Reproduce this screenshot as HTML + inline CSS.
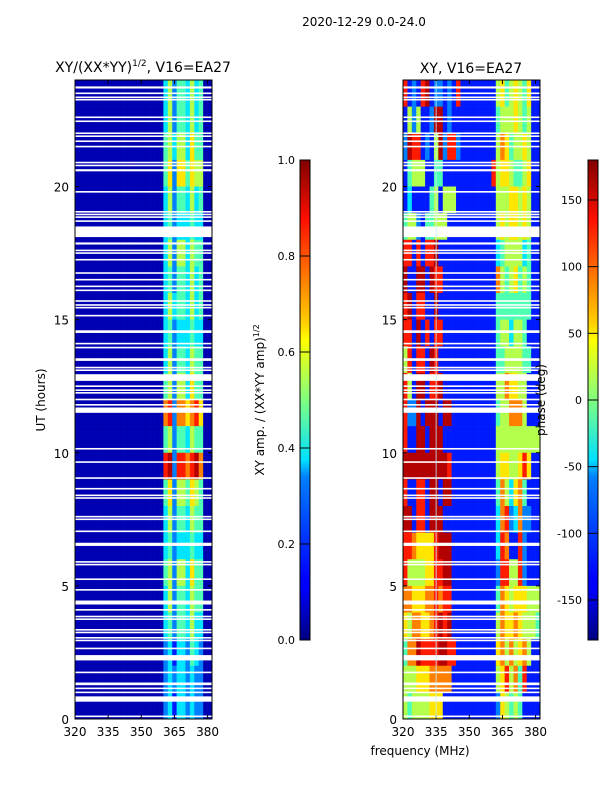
<!DOCTYPE html>
<html><head><meta charset="utf-8"><style>
html,body{margin:0;padding:0;background:#fff;}
svg{display:block;font-family:"DejaVu Sans","Liberation Sans",sans-serif;}
</style></head><body>
<svg id="fig" width="600" height="800" viewBox="0 0 600 800" xmlns="http://www.w3.org/2000/svg">
<defs>
<linearGradient id="jet" x1="0" y1="1" x2="0" y2="0">
<stop offset="0" stop-color="#000080"/><stop offset="0.11" stop-color="#0000ff"/><stop offset="0.125" stop-color="#0000ff"/>
<stop offset="0.34" stop-color="#0080ff"/><stop offset="0.375" stop-color="#00e0ff"/><stop offset="0.5" stop-color="#80ff80"/>
<stop offset="0.625" stop-color="#ffff00"/><stop offset="0.66" stop-color="#ffd000"/><stop offset="0.875" stop-color="#ff1000"/><stop offset="1" stop-color="#800000"/>
</linearGradient>
</defs>
<text x="364" y="26" font-size="12" text-anchor="middle">2020-12-29 0.0-24.0</text>
<text x="143" y="72" font-size="14" text-anchor="middle">XY/(XX*YY)<tspan font-size="9" dy="-6">1/2</tspan><tspan dy="6">, V16=EA27</tspan></text>
<text x="471" y="73" font-size="14" text-anchor="middle">XY, V16=EA27</text>
<text x="45" y="400" font-size="12" text-anchor="middle" transform="rotate(-90 45 400)">UT (hours)</text>
<text x="420" y="755" font-size="12" text-anchor="middle">frequency (MHz)</text>
<text x="264" y="400" font-size="12" text-anchor="middle" transform="rotate(-90 264 400)">XY amp. / (XX*YY amp)<tspan font-size="8" dy="-5">1/2</tspan></text>
<g id="left"></g>
<g id="right"></g>
<g id="cb"></g>
<text x="545" y="400" font-size="12" text-anchor="middle" transform="rotate(-90 545 400)">phase (deg)</text>
</svg>
<script>
const hourTicks=[0,5,10,15,20];
const freqTicks=[320,335,350,365,380];
const ampTicks=[0.0,0.2,0.4,0.6,0.8,1.0];
const phaseTicks=[-150,-100,-50,0,50,100,150];
const gaps=[[23.68,23.76],[23.48,23.53],[23.33,23.38],[23.24,23.29],[22.57,22.63],[22.42,22.48],[21.97,22.03],[21.87,21.92],[21.67,21.73],[21.47,21.53],[20.87,20.93],[20.77,20.82],[20.57,20.65],[19.77,19.83],[19.02,19.08],[18.92,18.98],[18.82,18.88],[18.67,18.73],[18.1,18.5],[17.82,17.9],[17.57,17.63],[17.47,17.53],[17.22,17.28],[16.72,16.78],[16.47,16.53],[16.22,16.28],[16.07,16.13],[15.67,15.73],[15.52,15.58],[15.42,15.48],[15.12,15.18],[14.5,14.6],[14.07,14.13],[13.92,13.98],[13.45,13.55],[13.17,13.23],[13.07,13.13],[12.7,12.95],[12.47,12.53],[12.32,12.38],[12.22,12.28],[11.97,12.03],[11.77,11.83],[11.5,11.7],[10.12,10.18],[9.62,9.68],[9.02,9.08],[8.62,8.68],[8.37,8.43],[8.27,8.33],[7.57,7.63],[7.47,7.53],[7.02,7.08],[6.5,6.62],[5.87,5.93],[5.77,5.83],[5.22,5.28],[4.82,4.88],[4.3,4.45],[4.07,4.13],[3.82,3.88],[3.72,3.78],[3.32,3.38],[3.22,3.28],[3.02,3.08],[2.92,2.98],[2.62,2.68],[2.2,2.4],[1.72,1.78],[1.27,1.37],[1.12,1.18],[0.97,1.03],[0.65,0.85],[0.07,0.13]];
// amplitude levels (0-9), rows from 23-24h down to 0-1h, 2 MHz columns from 320
const ampRows=[
"00000000000000000000"+"35244353400","00000000000000000000"+"35244353400","00000000000000000000"+"45355364400",
"00000000000000000000"+"46266465500","00000000000000000000"+"35244353400","00000000000000000000"+"34233343300",
"00000000000000000000"+"35255354400","00000000000000000000"+"34244353400","00000000000000000000"+"35344353400",
"00000000000000000000"+"34233343300","00000000000000000000"+"35244354400","00000000000000000000"+"45255364400",
"00000000000000000000"+"78277678600","00000000000000000000"+"45244354400","00000000000000000000"+"89288789700",
"00000000000000000000"+"46255465400","00000000000000000000"+"35244354400","00000000000000000000"+"34233343300",
"00000000000000000000"+"45255364400","00000000000000000000"+"35244354400","00000000000000000000"+"34244353300",
"00000000000000000000"+"23133243200","00000000000000000000"+"23233232200","00000000000000000000"+"23133232200"];
// phase levels (0-9 across -180..180)
const phaseRows=[
"8121891221218111"+"11111"+"56456546"+"11","1525112991211111"+"11111"+"45556545"+"11",
"2988121592882111"+"11111"+"57645565"+"11","1455511441111111"+"11118"+"56654456"+"11",
"1311114515551111"+"11111"+"55566565"+"11","4552144555111111"+"11111"+"56566565"+"11",
"8818188911111111"+"11111"+"34555534"+"11","9119919881111111"+"11111"+"75456454"+"11",
"8918811911111111"+"11111"+"44444444"+"11","8819181881111111"+"11111"+"45535541"+"11",
"5818819811111111"+"11111"+"44555544"+"11","8519918891111111"+"11111"+"55766551"+"11",
"8229199919911111"+"11111"+"45577751"+"11","8119919991111111"+"11111"+"55555555"+"55",
"9999999999811111"+"11111"+"56655686"+"11","8118819919911111"+"11111"+"47536741"+"11",
"9918819991111111"+"11111"+"37823722"+"11","8876666899911111"+"11111"+"38711821"+"11",
"8555566889911111"+"11111"+"28855821"+"11","7766677878811111"+"11111"+"47656665"+"55",
"6577667898911111"+"11111"+"57667655"+"54","4779888899881111"+"11111"+"67575675"+"11",
"5556667777711111"+"11111"+"56857481"+"11","5455556661111111"+"11111"+"26545411"+"11"];

const NS="http://www.w3.org/2000/svg";
const Y0=719,Y1=80,F0=320,F1=382,PW=137;
const yS=h=>Y0-(h/24)*(Y0-Y1);
const xS=(px,f)=>px+(f-F0)/(F1-F0)*PW;
function jet(v){v=Math.max(0,Math.min(1,v));
 const c=x=>Math.round(255*Math.max(0,Math.min(1,x)));
 return `rgb(${c(1.5-Math.abs(4*v-3))},${c(1.5-Math.abs(4*v-2))},${c(1.5-Math.abs(4*v-1))})`;}
function mk(tag,attrs,parent){const e=document.createElementNS(NS,tag);for(const k in attrs)e.setAttribute(k,attrs[k]);parent.appendChild(e);return e;}
function panel(g,px,rows,name){
 rows.forEach((row,ri)=>{const h=23-ri;
  for(let i=0;i<31;i++){const ch=row[i]||'1';const v=(+ch+0.5)/10;
   const r=mk('rect',{x:xS(px,F0+2*i).toFixed(2),y:yS(h+1).toFixed(2),width:(xS(px,F0+2*i+2)-xS(px,F0+2*i)+0.3).toFixed(2),height:(yS(h)-yS(h+1)+0.3).toFixed(2),fill:jet(v)},g);
   
   }});
 gaps.forEach(gp=>{const r=mk('rect',{x:px,y:yS(gp[1]).toFixed(2),width:PW,height:Math.max(1.6,yS(gp[0])-yS(gp[1])).toFixed(2),fill:'#fff'},g);
  
  });
 const fr=mk('rect',{x:px,y:Y1,width:PW,height:Y0-Y1,fill:'none',stroke:'#000','stroke-width':1},g);
 
 
 hourTicks.forEach(t=>{const y=yS(t);
  mk('line',{x1:px,x2:px+4,y1:y,y2:y,stroke:'#000'},g);mk('line',{x1:px+PW-4,x2:px+PW,y1:y,y2:y,stroke:'#000'},g);
  const tx=mk('text',{x:px-6,y:y+5,'font-size':12,'text-anchor':'end'},g);tx.textContent=t;
  
  });
 freqTicks.forEach(f=>{const x=xS(px,f);
  mk('line',{x1:x,x2:x,y1:Y0,y2:Y0-4,stroke:'#000'},g);mk('line',{x1:x,x2:x,y1:Y1,y2:Y1+4,stroke:'#000'},g);
  const tx=mk('text',{x:x,y:Y0+17,'font-size':12,'text-anchor':'middle'},g);tx.textContent=f;
  
  });
}
panel(document.getElementById('left'),75,ampRows,'amp');
const rg=document.getElementById('right');
panel(rg,403,phaseRows,'phase');
const vl=mk('line',{x1:xS(403,335),x2:xS(403,335),y1:Y1+1,y2:Y0-1,stroke:'#c0f0ff','stroke-width':1,opacity:0.8},rg);


const cb=document.getElementById('cb');
function colorbar(x,ticks,lo,hi,labelRight,name){
 const b=mk('rect',{x:x,y:160,width:10,height:480,fill:'url(#jet)',stroke:'#000','stroke-width':1},cb);
 
 
 ticks.forEach(t=>{const y=640-(t-lo)/(hi-lo)*480;
  mk('line',{x1:x,x2:x+10,y1:y,y2:y,stroke:'#000','stroke-width':1},cb);
  const tx=mk('text',{x:labelRight?x-6:x-5,y:y+4,'font-size':11,'text-anchor':'end'},cb);
  tx.textContent=labelRight?t:t.toFixed(1);
  
  });
}
colorbar(300,ampTicks,0,1,false,'amp-colorbar');
colorbar(588,phaseTicks,-180,180,true,'phase-colorbar');
</script>
</body></html>
